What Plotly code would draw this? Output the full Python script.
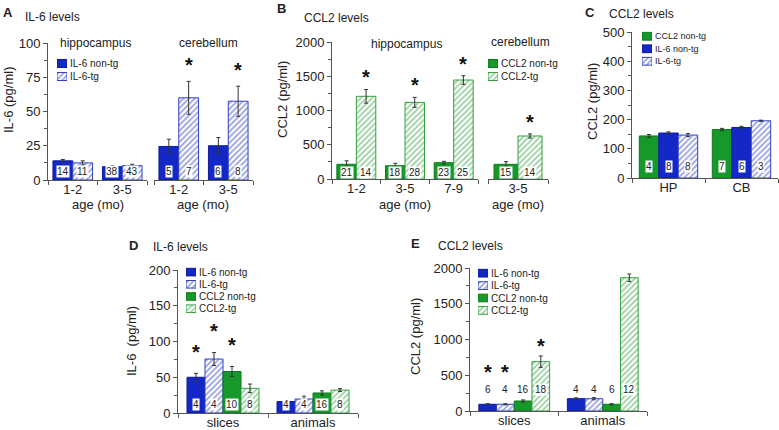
import numpy as np
import plotly.graph_objects as go

W, H = 779, 430
FONT = "Liberation Sans, Arial, sans-serif"
TXT = "#222222"
AX = "#555555"

# ---------------- data ----------------
# Panel A: IL-6 levels (pg/ml)
A_cats = ["1-2", "3-5"]
A_hip_nontg = [14, 9.7]
A_hip_nontg_err = [1, 0.8]
A_hip_nontg_n = [14, 38]
A_hip_tg = [12.5, 10.5]
A_hip_tg_err = [1.5, 1]
A_hip_tg_n = [11, 43]
A_cer_nontg = [24.5, 25]
A_cer_nontg_err = [5.3, 6]
A_cer_nontg_n = [5, 6]
A_cer_tg = [60, 57.5]
A_cer_tg_err = [12, 11]
A_cer_tg_n = [7, 8]
A_cer_tg_sig = [True, True]

# Panel B: CCL2 levels (pg/ml)
B_hip_cats = ["1-2", "3-5", "7-9"]
B_hip_nontg = [215, 194, 238]
B_hip_nontg_err = [50, 35, 20]
B_hip_nontg_n = [21, 18, 23]
B_hip_tg = [1207, 1119, 1445]
B_hip_tg_err = [100, 73, 63]
B_hip_tg_n = [14, 28, 25]
B_cer_cats = ["3-5"]
B_cer_nontg = [214]
B_cer_nontg_err = [39]
B_cer_nontg_n = [15]
B_cer_tg = [628]
B_cer_tg_err = [30]
B_cer_tg_n = [14]

# Panel C: CCL2 levels (pg/ml)
C_cats = ["HP", "CB"]
C_ccl2_nontg = [144, 166]
C_ccl2_nontg_err = [5, 4]
C_ccl2_nontg_n = [4, 7]
C_il6_nontg = [154, 173]
C_il6_nontg_err = [4, 4]
C_il6_nontg_n = [8, 6]
C_il6_tg = [147, 196]
C_il6_tg_err = [5, 2]
C_il6_tg_n = [8, 3]

# Panel D: IL-6 levels (pg/ml)
D_cats = ["slices", "animals"]
D_il6_nontg = [50, 16]
D_il6_nontg_err = [5.5, 1.5]
D_il6_nontg_n = [4, 4]
D_il6_tg = [75.5, 19.5]
D_il6_tg_err = [9, 4]
D_il6_tg_n = [4, 4]
D_ccl2_nontg = [58, 28]
D_ccl2_nontg_err = [7, 3]
D_ccl2_nontg_n = [10, 16]
D_ccl2_tg = [34.5, 32]
D_ccl2_tg_err = [6, 2]
D_ccl2_tg_n = [8, 8]
D_sig = {"IL-6 non-tg": [True, False], "IL-6-tg": [True, False],
         "CCL2 non-tg": [True, False], "CCL2-tg": [False, False]}

# Panel E: CCL2 levels (pg/ml)
E_cats = ["slices", "animals"]
E_il6_nontg = [94, 172]
E_il6_nontg_err = [8, 12]
E_il6_nontg_n = [6, 4]
E_il6_tg = [94, 172]
E_il6_tg_err = [8, 15]
E_il6_tg_n = [4, 4]
E_ccl2_nontg = [140, 94]
E_ccl2_nontg_err = [15, 8]
E_ccl2_nontg_n = [16, 6]
E_ccl2_tg = [690, 1864]
E_ccl2_tg_err = [80, 52]
E_ccl2_tg_n = [18, 12]
E_sig = {"IL-6 non-tg": [True, False], "IL-6-tg": [True, False],
         "CCL2 non-tg": [False, False], "CCL2-tg": [True, False]}

# legend entries per panel
A_legend = ["IL-6 non-tg", "IL-6-tg"]
B_legend = ["CCL2 non-tg", "CCL2-tg"]
C_legend = ["CCL2 non-tg", "IL-6 non-tg", "IL-6-tg"]
D_legend = ["IL-6 non-tg", "IL-6-tg", "CCL2 non-tg", "CCL2-tg"]
E_legend = ["IL-6 non-tg", "IL-6-tg", "CCL2 non-tg", "CCL2-tg"]

# ---------------- styles ----------------
BLUE = "#1428c8"
BLUE_H = "#3040c4"
GREEN = "#16982a"
GREEN_H = "#33a040"
STYLE = {
    "IL-6 non-tg": dict(color=BLUE, line=dict(color="#0c1a9a", width=1)),
    "IL-6-tg": dict(color="white", line=dict(color=BLUE_H, width=1),
                    pattern=dict(shape="/", fgcolor=BLUE_H, bgcolor="white", size=4, solidity=0.45)),
    "CCL2 non-tg": dict(color=GREEN, line=dict(color="#0d7a1d", width=1)),
    "CCL2-tg": dict(color="white", line=dict(color=GREEN_H, width=1),
                    pattern=dict(shape="/", fgcolor=GREEN_H, bgcolor="white", size=4, solidity=0.45)),
}


def px(x):
    return x / W


def py(y):
    return 1 - y / H


fig = go.Figure()
annotations = []
layout = {}


def add_panel(xid, yid, cats, series, label_y, label_top, star_off):
    k = len(series)
    bw = 0.8 / k
    base = np.arange(len(cats))
    for j, s in enumerate(series):
        xs = base + (j - (k - 1) / 2) * bw
        fig.add_trace(go.Bar(
            x=xs, y=s["y"], width=bw, name=s["name"],
            marker=STYLE[s["name"]],
            error_y=dict(type="data", array=s["err"], color="#333333", thickness=1, width=2),
            xaxis=xid, yaxis=yid, showlegend=False, hoverinfo="skip",
        ))
        for i, (xv, nv) in enumerate(zip(xs, s["n"])):
            annotations.append(dict(
                x=xv, y=label_y, xref=xid, yref=yid, text=str(nv), showarrow=False,
                bgcolor="white", borderpad=0, font=dict(size=10, color=TXT, family=FONT)))
            sig = s.get("sig")
            if sig is not None and sig[i]:
                top = max(s["y"][i] + s["err"][i], label_top)
                annotations.append(dict(
                    x=xv, y=top + star_off, xref=xid, yref=yid, text="<b>*</b>", showarrow=False,
                    yanchor="middle", font=dict(size=20, color="#111111", family=FONT)))


def S(name, y, err, n, sig=None):
    return dict(name=name, y=y, err=err, n=n, sig=sig)


# A
add_panel("x", "y", A_cats,
          [S("IL-6 non-tg", A_hip_nontg, A_hip_nontg_err, A_hip_nontg_n),
           S("IL-6-tg", A_hip_tg, A_hip_tg_err, A_hip_tg_n)],
          6, 10, 12)
add_panel("x2", "y2", A_cats,
          [S("IL-6 non-tg", A_cer_nontg, A_cer_nontg_err, A_cer_nontg_n),
           S("IL-6-tg", A_cer_tg, A_cer_tg_err, A_cer_tg_n, A_cer_tg_sig)],
          6, 10, 12)
# B
add_panel("x3", "y3", B_hip_cats,
          [S("CCL2 non-tg", B_hip_nontg, B_hip_nontg_err, B_hip_nontg_n),
           S("CCL2-tg", B_hip_tg, B_hip_tg_err, B_hip_tg_n, [True, True, True])],
          100, 180, 175)
add_panel("x4", "y4", B_cer_cats,
          [S("CCL2 non-tg", B_cer_nontg, B_cer_nontg_err, B_cer_nontg_n),
           S("CCL2-tg", B_cer_tg, B_cer_tg_err, B_cer_tg_n, [True])],
          100, 180, 175)
# C
add_panel("x5", "y5", C_cats,
          [S("CCL2 non-tg", C_ccl2_nontg, C_ccl2_nontg_err, C_ccl2_nontg_n),
           S("IL-6 non-tg", C_il6_nontg, C_il6_nontg_err, C_il6_nontg_n),
           S("IL-6-tg", C_il6_tg, C_il6_tg_err, C_il6_tg_n)],
          40, 60, 20)
# D
add_panel("x6", "y6", D_cats,
          [S("IL-6 non-tg", D_il6_nontg, D_il6_nontg_err, D_il6_nontg_n, D_sig["IL-6 non-tg"]),
           S("IL-6-tg", D_il6_tg, D_il6_tg_err, D_il6_tg_n, D_sig["IL-6-tg"]),
           S("CCL2 non-tg", D_ccl2_nontg, D_ccl2_nontg_err, D_ccl2_nontg_n, D_sig["CCL2 non-tg"]),
           S("CCL2-tg", D_ccl2_tg, D_ccl2_tg_err, D_ccl2_tg_n, D_sig["CCL2-tg"])],
          12, 20, 30)
# E
add_panel("x7", "y7", E_cats,
          [S("IL-6 non-tg", E_il6_nontg, E_il6_nontg_err, E_il6_nontg_n, E_sig["IL-6 non-tg"]),
           S("IL-6-tg", E_il6_tg, E_il6_tg_err, E_il6_tg_n, E_sig["IL-6-tg"]),
           S("CCL2 non-tg", E_ccl2_nontg, E_ccl2_nontg_err, E_ccl2_nontg_n, E_sig["CCL2 non-tg"]),
           S("CCL2-tg", E_ccl2_tg, E_ccl2_tg_err, E_ccl2_tg_n, E_sig["CCL2-tg"])],
          300, 400, 145)


def xaxis(x0, x1, cats, anchor, fsize=13):
    n = len(cats)
    return dict(domain=[px(x0), px(x1)], range=[-0.5, n - 0.5], anchor=anchor, automargin=False,
                tickmode="array", tickvals=list(range(n)), ticktext=cats, ticks="", ticklen=0,
                ticklabelstandoff=-3,
                showline=True, linecolor=AX, linewidth=1, showgrid=False, zeroline=False,
                tickfont=dict(size=fsize, color=TXT, family=FONT),
                minor=dict(tickmode="array", tickvals=[i - 0.5 for i in range(n + 1)],
                           ticks="outside", ticklen=4, tickcolor=AX, showgrid=False),
                fixedrange=True)


def yaxis(ytop, ybot, rng, dtick, mdtick, anchor, visible=True):
    d = dict(domain=[py(ybot), py(ytop)], range=rng, anchor=anchor, fixedrange=True,
             showgrid=False, zeroline=False, automargin=False)
    if not visible:
        d.update(visible=False)
        return d
    d.update(showline=True, linecolor=AX, linewidth=1, ticks="outside", ticklen=4,
             tickcolor=AX, dtick=dtick, tick0=0,
             tickfont=dict(size=13, color=TXT, family=FONT),
             minor=dict(dtick=mdtick, tick0=0, ticks="outside", ticklen=3, tickcolor=AX,
                        showgrid=False))
    return d


layout.update(
    xaxis=xaxis(48, 147, A_cats, "y"),
    yaxis=yaxis(43, 180, [0, 100], 25, 12.5, "x"),
    xaxis2=xaxis(154, 253, A_cats, "y2"),
    yaxis2=yaxis(43, 180, [0, 100], 25, 12.5, "x2", visible=False),
    xaxis3=xaxis(332, 478, B_hip_cats, "y3"),
    yaxis3=yaxis(42, 179, [0, 2000], 500, 250, "x3"),
    xaxis4=xaxis(488, 548, B_cer_cats, "y4"),
    yaxis4=yaxis(42, 179, [0, 2000], 500, 250, "x4", visible=False),
    xaxis5=xaxis(632, 778, C_cats, "y5"),
    yaxis5=yaxis(32, 178, [0, 500], 100, 50, "x5"),
    xaxis6=xaxis(178, 358, D_cats, "y6"),
    yaxis6=yaxis(270, 413, [0, 200], 50, 25, "x6"),
    xaxis7=xaxis(470, 647, E_cats, "y7"),
    yaxis7=yaxis(268, 411, [0, 2000], 500, 250, "x7"),
)

# ---------------- legends: swatch bars on small auxiliary axes ----------------
legend_defs = [
    (A_legend, 57, 67, 57, 13, 10),
    (B_legend, 488, 498, 57, 13, 10),
    (C_legend, 642, 652, 30, 12.5, 9),
    (D_legend, 186, 196, 266, 12.2, 10),
    (E_legend, 478, 488, 267, 12.4, 10),
]
for li, (names, x0, x1, ytop, pitch, fs) in enumerate(legend_defs):
    ax_n = 8 + li
    xid, yid = "x%d" % ax_n, "y%d" % ax_n
    n = len(names)
    for i, nm in enumerate(names):
        fig.add_trace(go.Bar(x=[1], y=[i], orientation="h", width=0.62, base=0,
                             marker=STYLE[nm], xaxis=xid, yaxis=yid,
                             showlegend=False, hoverinfo="skip"))
    layout["xaxis%d" % ax_n] = dict(domain=[px(x0), px(x1)], range=[0, 1], visible=False,
                                    anchor=yid, fixedrange=True, automargin=False)
    layout["yaxis%d" % ax_n] = dict(domain=[py(ytop + n * pitch), py(ytop)],
                                    range=[n - 0.5, -0.5], anchor=xid, side="right",
                                    tickmode="array", tickvals=list(range(n)), ticktext=names,
                                    ticks="", ticklen=0, showline=False, showgrid=False,
                                    zeroline=False, fixedrange=True, automargin=False,
                                    ticklabelstandoff=2,
                                    tickfont=dict(size=fs, color=TXT, family=FONT))


# ---------------- text annotations ----------------
def txt(x, y, s, size=12, bold=False, xanchor="center", angle=0):
    annotations.append(dict(
        x=px(x), y=py(y), xref="paper", yref="paper", text=("<b>%s</b>" % s) if bold else s,
        showarrow=False, xanchor=xanchor, yanchor="middle", textangle=angle,
        font=dict(size=size, color=TXT, family=FONT)))


panel_letters = [("A", 8, 12), ("B", 281, 9), ("C", 590, 12), ("D", 133, 245), ("E", 415, 243)]
for s, x, y in panel_letters:
    txt(x, y, s, 13, True)
panel_titles = [("IL-6 levels", 23, 17), ("CCL2 levels", 302, 18), ("CCL2 levels", 607, 14),
                ("IL-6 levels", 151, 247), ("CCL2 levels", 436, 246)]
for s, x, y in panel_titles:
    txt(x, y, s, 12, xanchor="left")
y_titles = [("IL-6 (pg/ml)", 9, 100), ("CCL2 (pg/ml)", 283, 100), ("CCL2 (pg/ml)", 592, 102),
            ("IL-6  (pg/ml)", 131, 341), ("CCL2 (pg/ml)", 415, 337)]
for s, x, y in y_titles:
    txt(x, y, s, 13, angle=-90)
region_titles = [("hippocampus", 95, 43), ("cerebellum", 208, 43),
                 ("hippocampus", 406, 44), ("cerebellum", 520, 42)]
for s, x, y in region_titles:
    txt(x, y, s, 12)
for x in (97.5, 203.5, 405, 518):
    txt(x, 204, "age (mo)", 13)

layout.update(
    width=W, height=H, margin=dict(l=0, r=0, t=0, b=0, autoexpand=False),
    paper_bgcolor="white", plot_bgcolor="rgba(0,0,0,0)", barmode="overlay",
    font=dict(family=FONT, color=TXT), showlegend=False,
    annotations=annotations,
)
fig.update_layout(**layout)
fig.write_html("out.html", config={"displayModeBar": False},
               post_script="document.body.style.margin='0';document.body.style.overflow='hidden';")
